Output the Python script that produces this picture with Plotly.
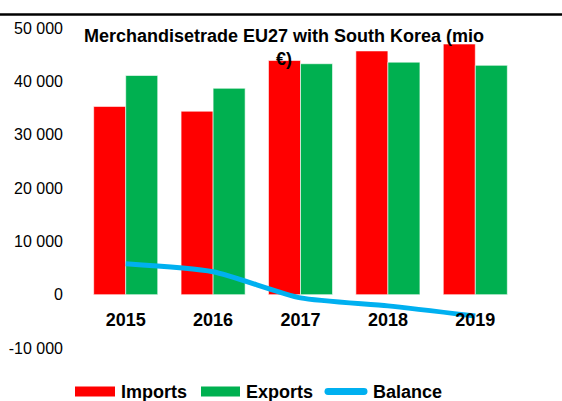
import plotly.graph_objects as go

# Data (mio EUR)
years = ["2015", "2016", "2017", "2018", "2019"]
imports = [35300, 34400, 43900, 45700, 47000]
exports = [41100, 38700, 43300, 43600, 43000]
balance = [5800, 4300, -600, -2100, -4000]

y_tickvals = [-10000, 0, 10000, 20000, 30000, 40000, 50000]
y_ticktext = ["-10 000", "0", "10 000", "20 000", "30 000", "40 000", "50 000"]

colors = {"Imports": "#FF0000", "Exports": "#00B050", "Balance": "#00B0F0"}

W, H = 562, 401
L, R, T, B = 82, 43, 27.6, 52.7
pw, ph = W - L - R, H - T - B


def px(x):
    return (x - L) / pw


def py(y):
    return (H - B - y) / ph


fig = go.Figure()

fig.add_trace(go.Bar(
    x=years, y=imports, name="Imports",
    marker=dict(color=colors["Imports"], line=dict(color="white", width=0.6)),
))
fig.add_trace(go.Bar(
    x=years, y=exports, name="Exports",
    marker=dict(color=colors["Exports"], line=dict(color="white", width=0.6)),
))
fig.add_trace(go.Scatter(
    x=years, y=balance, name="Balance", mode="lines",
    line=dict(color=colors["Balance"], width=5, shape="spline", smoothing=0.6),
))

# thin black rule across the top of the page
fig.add_shape(
    type="line", xref="paper", yref="paper",
    x0=px(0), x1=px(W), y0=py(14), y1=py(14),
    line=dict(color="black", width=2.5),
)

# legend drawn by hand (wide Excel-style keys)
legend_items = [("Imports", 75, 115, "rect"), ("Exports", 201, 240, "rect"),
                ("Balance", 325, 367, "line")]
ly = 392
for name, x0, x1, kind in legend_items:
    if kind == "rect":
        fig.add_shape(type="rect", xref="paper", yref="paper",
                      x0=px(x0), x1=px(x1), y0=py(ly + 5), y1=py(ly - 5),
                      fillcolor=colors[name], line=dict(width=0))
    else:
        fig.add_shape(type="line", xref="paper", yref="paper",
                      x0=px(x0 + 3), x1=px(x1 - 3), y0=py(ly), y1=py(ly),
                      line=dict(color=colors[name], width=7))
        for cx in (x0 + 3, x1 - 3):
            fig.add_shape(type="circle", xref="paper", yref="paper",
                          x0=px(cx - 3.5), x1=px(cx + 3.5),
                          y0=py(ly + 3.5), y1=py(ly - 3.5),
                          fillcolor=colors[name], line=dict(width=0))
    fig.add_annotation(text=f"<b>{name}</b>", xref="paper", yref="paper",
                       x=px(x1 + 4), y=py(ly), xanchor="left", yanchor="middle",
                       showarrow=False, font=dict(size=18, color="black"))

fig.update_layout(
    width=W, height=H,
    margin=dict(l=L, r=R, t=T, b=B, pad=0, autoexpand=False),
    paper_bgcolor="white", plot_bgcolor="white",
    barmode="group", bargap=0.267, bargroupgap=0,
    font=dict(family="Liberation Sans, Arial, sans-serif", color="black"),
    title=dict(
        text="<b>Merchandisetrade EU27 with South Korea (mio<br>€)</b>",
        x=284 / W, xanchor="center", xref="container",
        y=1 - 42 / H, yanchor="top", yref="container",
        font=dict(size=18, color="black"),
    ),
    showlegend=False,
    xaxis=dict(
        anchor="free", position=1 / 6, automargin=False,
        showline=False, showgrid=False, zeroline=False, ticks="",
        ticklabelstandoff=12,
        tickfont=dict(size=18, color="black", weight="bold"),
    ),
    yaxis=dict(
        range=[-10000, 50000], automargin=False,
        tickvals=y_tickvals, ticktext=y_ticktext,
        showline=False, showgrid=False, zeroline=False, ticks="",
        ticklabelstandoff=18,
        tickfont=dict(size=16, color="black"),
    ),
)

# the page body has a default 8px margin; remove it so the figure fills the window
fig.write_html("out.html", config={"displayModeBar": False},
               post_script="document.body.style.margin='0';")
